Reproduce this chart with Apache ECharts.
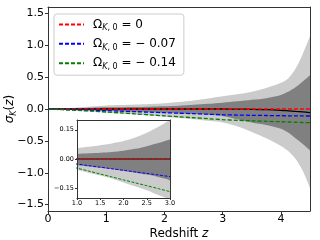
<!DOCTYPE html>
<html><head><meta charset="utf-8">
<script src="https://cdn.jsdelivr.net/npm/echarts@6/dist/echarts.min.js"></script>
<style>html,body{margin:0;padding:0;background:#fff}#c{width:320px;height:240px}</style>
</head><body><div id="c"></div>
<script>
// ---- data ----
const z          = [0,0.25,0.5,0.75,1,1.25,1.5,1.75,2,2.25,2.5,2.75,3,3.25,3.5,3.75,4,4.125,4.25,4.375,4.5];
const lightUpper = [0,0.012,0.025,0.04,0.055,0.063,0.071,0.08,0.092,0.11,0.134,0.165,0.2,0.23,0.27,0.33,0.41,0.48,0.63,0.86,1.14];
const lightLower = [0,-0.013,-0.027,-0.041,-0.055,-0.07,-0.085,-0.1,-0.12,-0.14,-0.16,-0.185,-0.21,-0.27,-0.36,-0.46,-0.58,-0.66,-0.78,-0.97,-1.24];
const darkUpper  = [0,0.007,0.014,0.02,0.026,0.029,0.032,0.036,0.042,0.052,0.066,0.082,0.1,0.12,0.145,0.17,0.22,0.27,0.34,0.43,0.53];
const darkLower  = [0,-0.008,-0.016,-0.024,-0.032,-0.038,-0.045,-0.052,-0.06,-0.07,-0.08,-0.092,-0.11,-0.16,-0.21,-0.25,-0.31,-0.37,-0.46,-0.55,-0.65];
const bestFit    = [0,0,0,0,0,0,0,0,0,0,0,0,0,-0.002,-0.005,-0.01,-0.02,-0.028,-0.037,-0.046,-0.056];
const omegaK000  = [0,0,0,0,0,0,0,0,0,0,0,0,0,0,0,0,0,0,0,0,0];
const omegaK007  = [0,-0.007,-0.013,-0.02,-0.026,-0.034,-0.042,-0.05,-0.058,-0.066,-0.074,-0.082,-0.09,-0.095,-0.099,-0.102,-0.105,-0.107,-0.108,-0.109,-0.11];
const omegaK014  = [0,-0.011,-0.022,-0.034,-0.047,-0.062,-0.077,-0.092,-0.107,-0.122,-0.137,-0.152,-0.167,-0.177,-0.185,-0.193,-0.2,-0.204,-0.208,-0.212,-0.215];
const legendValues = ['0', '− 0.07', '− 0.14'];
const mainXTicks = [0,1,2,3,4];
const mainYTicks = [-1.5,-1,-0.5,0,0.5,1,1.5];
const insetXTicks = [1,1.5,2,2.5,3];
const insetYTicks = [-0.15,0,0.15];
const xTitle = 'Redshift ';
const xTitleVar = 'z';

// ---- chart ----
const FONT = 'DejaVu Sans';
const fmtMinus = s => s.replace('-', '−');
const pairs = v => z.map((x, i) => [x, v[i]]);

function makeSeries(inset) {
  const xi = inset ? 2 : 0, yi = inset ? 2 : 0, zz = inset ? 6 : 2;
  const lw = inset ? 1 : 1.3;
  const dash = inset ? [3, 1.5] : [4, 2];
  const area = (v, c) => ({type:'line', xAxisIndex:xi, yAxisIndex:yi, data:pairs(v), symbol:'none',
    lineStyle:{width:0}, areaStyle:{color:c, opacity:1}, z:zz, silent:true, smooth:0.3});
  const line = (name, v, c, type) => ({type:'line', name: name, xAxisIndex:xi, yAxisIndex:yi, data:pairs(v), symbol:'none',
    lineStyle:{width:lw, color:c, type:type}, itemStyle:{color:c}, z:zz, silent:true, smooth:0.3});
  return [
    area(lightUpper, '#cbcbcb'),
    area(lightLower, '#cbcbcb'),
    area(darkUpper, '#808080'),
    area(darkLower, '#808080'),
    line(inset ? 'bf2' : 'bf', bestFit, '#000', 'solid'),
    line(inset ? 'a2' : 'a', omegaK000, '#ff0000', dash),
    line(inset ? 'b2' : 'b', omegaK007, '#0000ff', dash),
    line(inset ? 'c2' : 'c', omegaK014, '#008000', dash)
  ];
}

const axisLineStyle = {show:true, onZero:false, lineStyle:{color:'#333', width:1}};
const names = {a: legendValues[0], b: legendValues[1], c: legendValues[2]};

const option = {
  animation: false,
  grid: [
    {left:48, top:7, width:262, height:204, show:false, outerBoundsMode:'none', containLabel:false},
    {left:77, top:120, width:93, height:78, show:true, backgroundColor:'#fff', borderWidth:0, z:5, outerBoundsMode:'none', containLabel:false}
  ],
  legend: {
    data: ['a','b','c'], orient:'vertical', left:54, top:14,
    itemWidth:25, itemHeight:16, itemGap:5,
    padding:[4,8,4,4],
    itemStyle:{opacity:0},
    backgroundColor:'rgba(255,255,255,0.85)', borderColor:'#cccccc', borderWidth:1, borderRadius:3,
    formatter: n => '{p|Ω}{k|K}{s|, 0}{o| = ' + names[n] + '}',
    textStyle: {fontFamily:FONT, color:'#000', rich:{
      p:{fontSize:12, fontFamily:FONT, lineHeight:16, padding:[0,0,0,4]},
      o:{fontSize:12, fontFamily:FONT, lineHeight:16},
      k:{fontSize:8, fontFamily:FONT, fontStyle:'italic', lineHeight:8, verticalAlign:'bottom'},
      s:{fontSize:8, fontFamily:FONT, lineHeight:8, verticalAlign:'bottom'}
    }}
  },
  xAxis: [
    {type:'value', gridIndex:0, min:0, max:4.5, position:'bottom', z:3,
     axisLine:axisLineStyle, splitLine:{show:false},
     axisTick:{show:true, length:3, customValues:mainXTicks, lineStyle:{color:'#333'}},
     axisLabel:{customValues:mainXTicks, fontFamily:FONT, fontSize:11, color:'#000', margin:3, formatter: v => String(v)},
     name:'{a|' + xTitle + '}{i|' + xTitleVar + '}', nameLocation:'middle', nameGap:17, nameMoveOverlap:false,
     nameTextStyle:{rich:{a:{fontFamily:FONT, fontSize:12, color:'#000'}, i:{fontFamily:FONT, fontSize:12, fontStyle:'italic', color:'#000'}}}},
    {type:'value', gridIndex:0, min:0, max:4.5, position:'top', z:3,
     axisLine:axisLineStyle, splitLine:{show:false}, axisTick:{show:false}, axisLabel:{show:false}},
    {type:'value', gridIndex:1, min:1, max:3, position:'bottom', z:7,
     axisLine:axisLineStyle, splitLine:{show:false},
     axisTick:{show:true, length:2, customValues:insetXTicks, lineStyle:{color:'#333'}},
     axisLabel:{customValues:insetXTicks, fontFamily:FONT, fontSize:6.5, color:'#000', margin:2, formatter: v => v.toFixed(1)}},
    {type:'value', gridIndex:1, min:1, max:3, position:'top', z:7,
     axisLine:axisLineStyle, splitLine:{show:false}, axisTick:{show:false}, axisLabel:{show:false}}
  ],
  yAxis: [
    {type:'value', gridIndex:0, min:-1.6, max:1.6, position:'left', z:3,
     axisLine:axisLineStyle, splitLine:{show:false},
     axisTick:{show:true, length:3, customValues:mainYTicks, lineStyle:{color:'#333'}},
     axisLabel:{customValues:mainYTicks, fontFamily:FONT, fontSize:11, color:'#000', margin:4, formatter: v => fmtMinus(v.toFixed(1))},
     name:'{i|σ}{s|K}{a|(}{i|z}{a|)}', nameLocation:'middle', nameGap:30, nameRotate:90, nameMoveOverlap:false,
     nameTextStyle:{rich:{
       a:{fontFamily:FONT, fontSize:12, color:'#000', lineHeight:16},
       i:{fontFamily:FONT, fontSize:12, fontStyle:'italic', color:'#000', lineHeight:16},
       s:{fontFamily:FONT, fontSize:8, fontStyle:'italic', color:'#000', lineHeight:8, verticalAlign:'bottom'}}}},
    {type:'value', gridIndex:0, min:-1.6, max:1.6, position:'right', z:3,
     axisLine:axisLineStyle, splitLine:{show:false}, axisTick:{show:false}, axisLabel:{show:false}},
    {type:'value', gridIndex:1, min:-0.2, max:0.2, position:'left', z:7,
     axisLine:axisLineStyle, splitLine:{show:false},
     axisTick:{show:true, length:2, customValues:insetYTicks, lineStyle:{color:'#333'}},
     axisLabel:{customValues:insetYTicks, fontFamily:FONT, fontSize:6.5, color:'#000', margin:3, formatter: v => fmtMinus(v.toFixed(2))}},
    {type:'value', gridIndex:1, min:-0.2, max:0.2, position:'right', z:7,
     axisLine:axisLineStyle, splitLine:{show:false}, axisTick:{show:false}, axisLabel:{show:false}}
  ],
  series: makeSeries(false).concat(makeSeries(true))
};
const chart = echarts.init(document.getElementById('c'), null, {renderer:'canvas'});
chart.setOption(option);
</script></body></html>
